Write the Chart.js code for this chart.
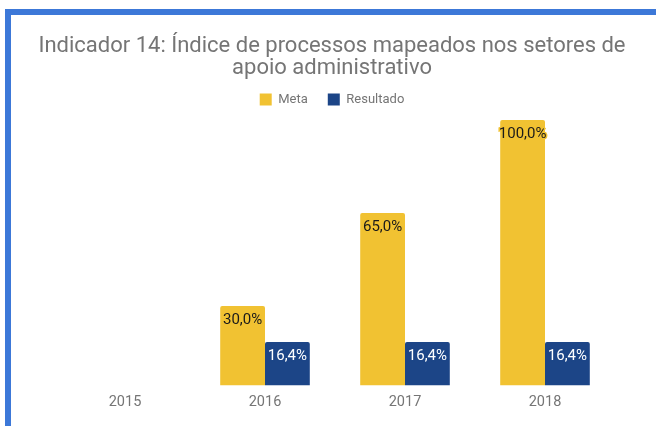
<!DOCTYPE html>
<html lang="pt-BR">
<head>
<meta charset="utf-8">
<title>Indicador 14</title>
<script src="https://cdn.jsdelivr.net/npm/chart.js@4/dist/chart.umd.min.js"></script>
<style>
    html, body { margin: 0; padding: 0; background: #fff; }
    #wrap { position: relative; width: 656px; height: 426px; overflow: hidden; }
    #frame {
        position: absolute; left: 5px; top: 9px; right: -10px; bottom: -10px;
        border-top: 6px solid #3c78d8; border-left: 6px solid #3c78d8;
        pointer-events: none;
    }
</style>
</head>
<body>
<div id="wrap">
    <canvas id="mainChart" width="656" height="426"></canvas>
    <div id="frame"></div>
</div>
<script>
// Data
const YEARS = ['2015', '2016', '2017', '2018'];
const META = [null, 30, 65, 100];
const RESULTADO = [null, 16.4, 16.4, 16.4];
const TITLE_LINES = ['Indicador 14: Índice de processos mapeados nos setores de', 'apoio administrativo'];

const YELLOW = '#f1c232';
const BLUE = '#1c4587';
const GREY = '#757575';

document.addEventListener('DOMContentLoaded', () => {
    renderChart();
});

// Writes "30,0%" style labels just inside the top of each bar
const barLabels = {
    id: 'barLabels',
    afterDatasetsDraw(chart) {
        const ctx = chart.ctx;
        ctx.save();
        ctx.font = '15px Roboto';
        ctx.textAlign = 'center';
        ctx.textBaseline = 'middle';
        chart.data.datasets.forEach((ds, i) => {
            const meta = chart.getDatasetMeta(i);
            meta.data.forEach((bar, j) => {
                const v = ds.data[j];
                if (v === null || v === undefined) return;
                const txt = v.toLocaleString('pt-BR', { minimumFractionDigits: 1, maximumFractionDigits: 1 }) + '%';
                const y = bar.y + 14;
                ctx.lineWidth = 3;
                ctx.strokeStyle = ds.backgroundColor;
                ctx.strokeText(txt, bar.x, y);
                ctx.fillStyle = ds.labelColor;
                ctx.fillText(txt, bar.x, y);
            });
        });
        ctx.restore();
    }
};

// Invisible axis used only to reserve space around the plot
function spacer(position, size) {
    const horizontal = position === 'top' || position === 'bottom';
    return {
        type: 'linear',
        position: position,
        display: true,
        ticks: { display: false },
        grid: { display: false, drawTicks: false },
        border: { display: false },
        afterFit(scale) {
            if (horizontal) scale.height = size;
            else scale.width = size;
        }
    };
}

function renderChart() {
    const ctx = document.getElementById('mainChart').getContext('2d');

    const yAxis = spacer('left', 47);
    yAxis.min = 0;
    yAxis.max = 100;

    new Chart(ctx, {
        type: 'bar',
        data: {
            labels: YEARS,
            datasets: [{
                label: 'Meta',
                data: META,
                backgroundColor: YELLOW,
                labelColor: '#1a1a1a',
                borderRadius: 2,
                borderSkipped: 'bottom'
            }, {
                label: 'Resultado',
                data: RESULTADO,
                backgroundColor: BLUE,
                labelColor: '#ffffff',
                borderRadius: 2,
                borderSkipped: 'bottom'
            }]
        },
        options: {
            responsive: false,
            animation: false,
            layout: { padding: { left: 8, right: 0, top: 0, bottom: 7 } },
            datasets: {
                bar: { barPercentage: 1.0, categoryPercentage: 0.64 }
            },
            plugins: {
                title: {
                    display: true,
                    text: TITLE_LINES,
                    color: GREY,
                    font: { family: 'Roboto', size: 22, weight: 'normal', lineHeight: 1.0 },
                    padding: { top: 35, bottom: -6 }
                },
                legend: {
                    display: true,
                    labels: {
                        color: GREY,
                        font: { family: 'Roboto', size: 13 },
                        boxWidth: 12,
                        boxHeight: 12,
                        padding: 20
                    }
                },
                tooltip: { enabled: false }
            },
            scales: {
                x: {
                    grid: { display: false, drawTicks: false },
                    border: { display: false },
                    ticks: { color: GREY, font: { family: 'Roboto', size: 14.5 }, padding: 8 }
                },
                y: yAxis,
                padRight: spacer('right', 41),
                padTop: spacer('top', 4)
            }
        },
        plugins: [barLabels]
    });
}
</script>
</body>
</html>
